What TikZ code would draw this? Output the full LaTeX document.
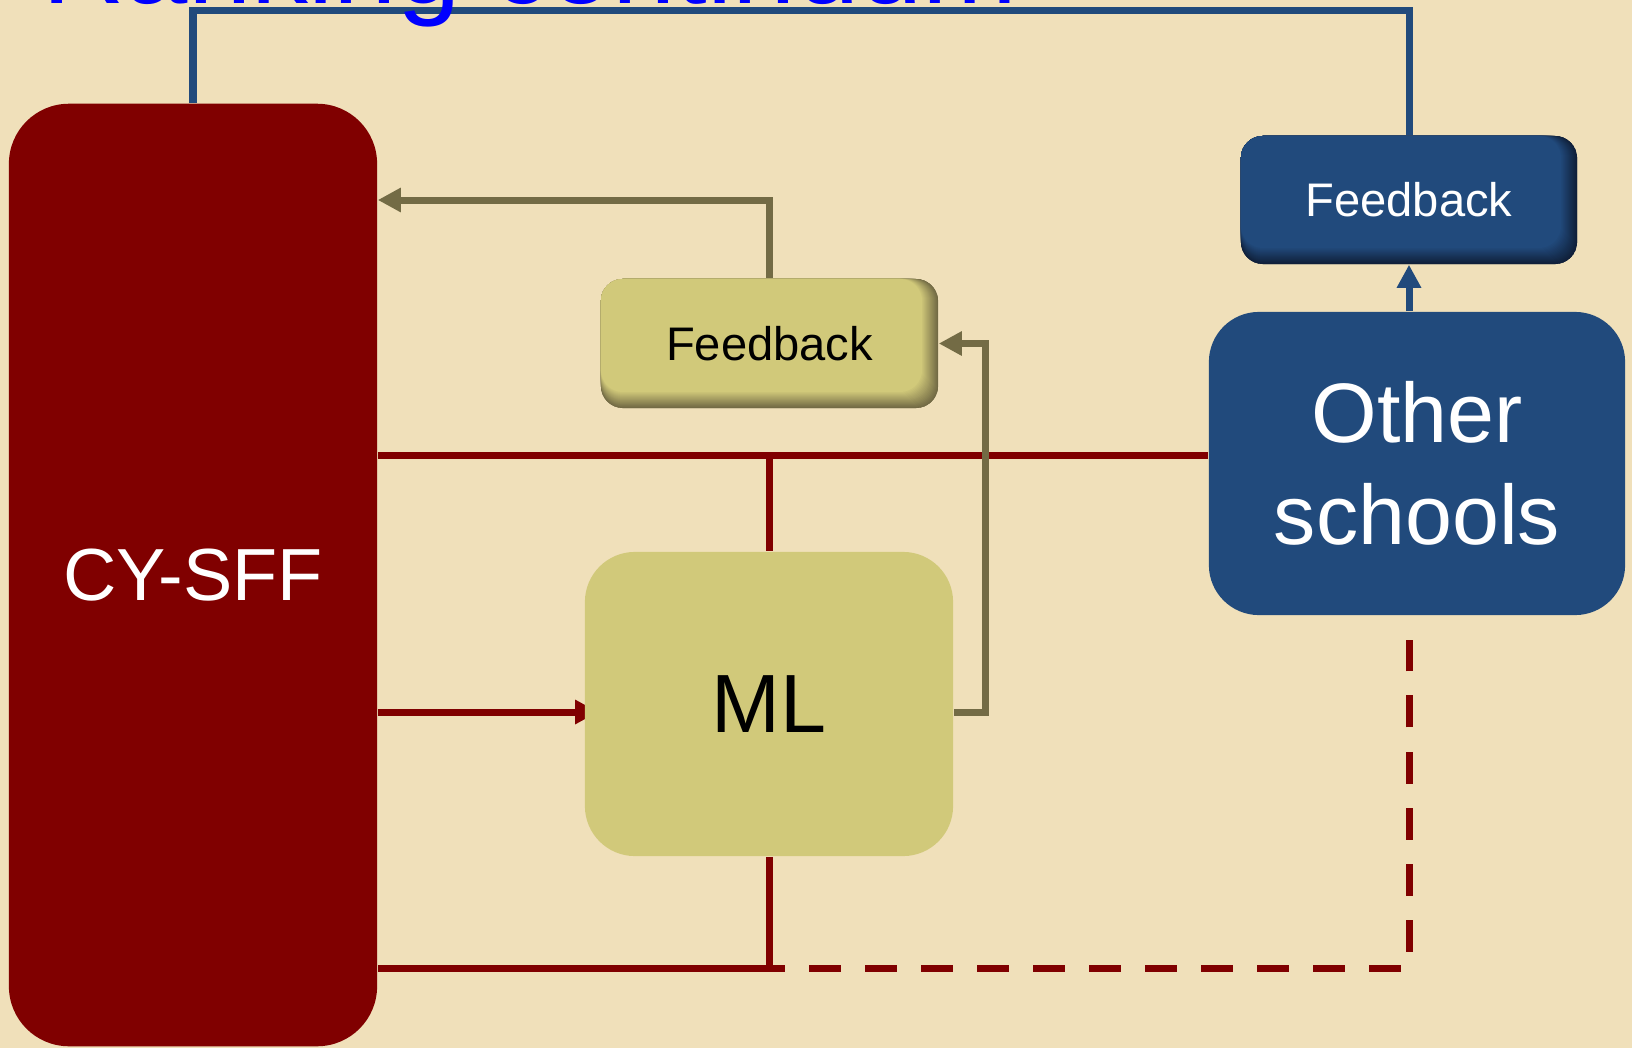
\documentclass[tikz,border=0pt]{standalone}
\usepackage{fontspec}
\setmainfont{Liberation Sans}
\usetikzlibrary{arrows.meta}

\definecolor{paper}{RGB}{240,224,186}
\definecolor{maroon}{RGB}{128,0,0}
\definecolor{navy}{RGB}{33,74,124}
\definecolor{navydark}{RGB}{16,32,58}
\definecolor{khaki}{RGB}{209,201,122}
\definecolor{olive}{RGB}{115,107,69}
\definecolor{titleblue}{RGB}{0,0,255}

\pgfdeclarelayer{paperlayer}
\pgfdeclarelayer{wires}
\pgfsetlayers{paperlayer,wires,main}

\tikzset{
  box/.style={rounded corners=#1, inner sep=0pt, align=center},
  % rounded box whose right and bottom edges darken into a soft shadow
  bevel/.style 2 args={fill=#2, path picture={
      \foreach \i in {0,...,16}{
        \pgfmathsetmacro\s{\i*0.01}
        \pgfmathtruncatemacro\m{100*\i/16}
        \fill[#1!\m!#2, rounded corners=0.22cm]
          (path picture bounding box.north west) rectangle
          ([xshift=-\s cm, yshift=\s cm]path picture bounding box.south east);
      }}},
  tip/.style={-{Triangle[length=0.23cm, width=0.23cm]}},
  wire/.style={line width=0.07cm},
  redline/.style={wire, draw=maroon},
  blueline/.style={wire, draw=navy},
  oliveline/.style={wire, draw=olive},
}

\begin{document}
\begin{tikzpicture}[x=0.01cm, y=-0.01cm]
\useasboundingbox (0,0) rectangle (1632,1048);
\begin{pgfonlayer}{paperlayer}
  \fill[paper] (0,0) rectangle (1632,1048);
\end{pgfonlayer}

% heading, mostly above the top edge
\node[anchor=base west, inner sep=0pt, text=titleblue,
      font=\fontsize{32.4pt}{38pt}\selectfont] (title) at (42,3) {Ranking continuum};

% boxes
\node[box=0.6cm, fill=maroon, minimum width=3.68cm, minimum height=9.42cm,
      text=white, font=\fontsize{21pt}{25pt}\selectfont] (cy) at (193,575) {CY-SFF};
\node[box=0.5cm, fill=khaki, minimum width=3.68cm, minimum height=3.04cm,
      font=\fontsize{23.5pt}{28pt}\selectfont] (ml) at (769,704) {ML};
\node[box=0.5cm, fill=navy, minimum width=4.16cm, minimum height=3.03cm,
      text=white, font=\fontsize{24pt}{29pt}\selectfont] (os) at (1417,463.5) {Other\\schools};
\node[box=0.22cm, bevel={khaki}{olive}, minimum width=3.37cm, minimum height=1.29cm,
      font=\fontsize{13.4pt}{16pt}\selectfont] (fbo) at (769.5,343.5) {Feedback};
\node[box=0.22cm, bevel={navy}{navydark}, minimum width=3.36cm, minimum height=1.28cm,
      text=white, font=\fontsize{13.4pt}{16pt}\selectfont] (fbb) at (1409,200) {Feedback};

% levels and rails used by the connectors
\coordinate (yTop) at (0,10);
\coordinate (yFb) at (0,200);
\coordinate (yMid) at (0,455);
\coordinate (yArr) at (0,712);
\coordinate (yBot) at (0,968);
\coordinate (yDashTop) at (0,640);
\coordinate (xRail) at (985,0);
\coordinate (xDash) at (785,0);

\begin{pgfonlayer}{wires}
  % blue loop from CY-SFF over the top to the school feedback
  \draw[blueline] (cy.north) -- (cy.north |- yTop) -- (fbb.north |- yTop) -- (fbb.north);
  \draw[blueline, tip] (fbb.south |- os.north) -- (fbb.south);

  % maroon links
  \draw[redline] (cy.east |- yMid) -- (os.west |- yMid);
  \draw[redline] (ml.north |- yMid) -- (ml.north);
  \draw[redline, tip, shorten >=-0.14cm] (cy.east |- yArr) -- (ml.west |- yArr);
  \draw[redline] (ml.south) -- (ml.south |- yBot);
  \draw[redline] (cy.east |- yBot) -- (xDash |- yBot);
  \draw[redline, dash pattern=on 0.32cm off 0.24cm, dash phase=0.32cm]
    (xDash |- yBot) -- (fbb.south |- yBot) -- (fbb.south |- yDashTop);

  % olive feedback loop
  \draw[oliveline, tip] (fbo.north) -- (fbo.north |- yFb) -- (cy.east |- yFb);
  \draw[oliveline, tip] (ml.east |- yArr) -- (xRail |- yArr) -- (xRail |- fbo.east) -- (fbo.east);
\end{pgfonlayer}
\end{tikzpicture}
\end{document}
